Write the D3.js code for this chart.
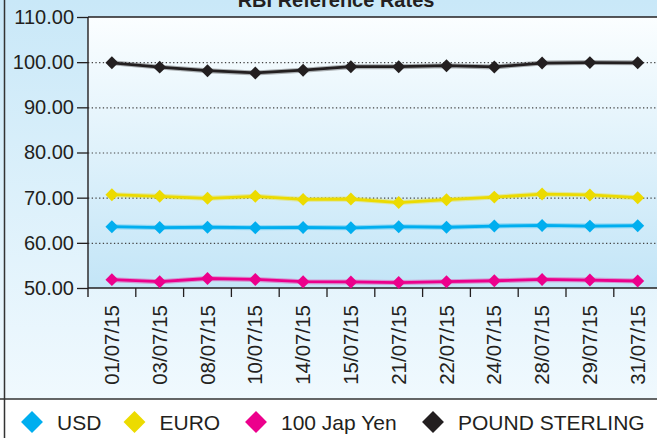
<!DOCTYPE html>
<html>
<head>
<meta charset="utf-8">
<script src="https://d3js.org/d3.v7.min.js"></script>
<style>
  body { margin: 0; background: #fff; }
  svg { display: block; font-family: "Liberation Sans", Arial, sans-serif; }
</style>
</head>
<body>
<svg width="657" height="438"></svg>
<script>
var dates = ["01/07/15", "03/07/15", "08/07/15", "10/07/15", "14/07/15", "15/07/15",
             "21/07/15", "22/07/15", "24/07/15", "28/07/15", "29/07/15", "31/07/15"];
var usd   = [63.57, 63.38, 63.45, 63.36, 63.40, 63.33, 63.57, 63.45, 63.72, 63.85, 63.70, 63.80];
var euro  = [70.66, 70.30, 69.86, 70.30, 69.62, 69.70, 68.92, 69.55, 70.12, 70.80, 70.60, 70.00];
var yen   = [51.85, 51.40, 52.10, 51.90, 51.40, 51.35, 51.20, 51.40, 51.60, 51.90, 51.75, 51.55];
var pound = [99.86, 98.90, 98.12, 97.62, 98.22, 99.00, 99.00, 99.22, 98.95, 99.80, 99.90, 99.85];
var seriesNames = ["USD", "EURO", "100 Jap Yen", "POUND STERLING"];
var seriesColors = ["#00aeef", "#ecdb00", "#ec008c", "#231f20"];
var yTicks = [50, 60, 70, 80, 90, 100, 110];

var svg = d3.select("svg"),
    width = +svg.attr("width"),
    height = +svg.attr("height");

var plotL = 88, plotR = 661.6, plotT = 17, plotB = 288, legendTop = 399;

var defs = svg.append("defs");
var bgGrad = defs.append("linearGradient").attr("id", "bg").attr("x1", 0).attr("y1", 0).attr("x2", 0).attr("y2", 1);
bgGrad.append("stop").attr("offset", "0%").attr("stop-color", "#c9e8f8");
bgGrad.append("stop").attr("offset", "100%").attr("stop-color", "#f0f9fe");
var plotGrad = defs.append("linearGradient").attr("id", "plotbg").attr("x1", 0).attr("y1", 0).attr("x2", 0).attr("y2", 1);
plotGrad.append("stop").attr("offset", "0%").attr("stop-color", "#fbfeff");
plotGrad.append("stop").attr("offset", "100%").attr("stop-color", "#c3e5f7");

// backgrounds
svg.append("rect").attr("x", 0).attr("y", 0).attr("width", width).attr("height", legendTop).attr("fill", "url(#bg)");
svg.append("rect").attr("x", 0).attr("y", legendTop).attr("width", width).attr("height", height - legendTop).attr("fill", "#fff");
svg.append("rect").attr("x", plotL).attr("y", plotT).attr("width", plotR - plotL).attr("height", plotB - plotT).attr("fill", "url(#plotbg)");

var x = d3.scaleBand().domain(dates).range([plotL, plotR]).padding(0);
var y = d3.scaleLinear().domain([50, 110]).range([plotB, plotT]);

// gridlines
svg.append("g").selectAll("line")
  .data(yTicks.filter(function(d) { return d > 50 && d < 110; }))
  .enter().append("line")
  .attr("x1", plotL).attr("x2", plotR)
  .attr("y1", function(d) { return y(d) + 0.5; })
  .attr("y2", function(d) { return y(d) + 0.5; })
  .attr("stroke", "#444").attr("stroke-width", 1.2)
  .attr("stroke-dasharray", "1.3,2.4");

// y axis
var yAxis = svg.append("g")
  .attr("transform", "translate(" + plotL + ",0)")
  .call(d3.axisLeft(y).tickValues(yTicks).tickFormat(d3.format(".2f")).tickSize(11).tickPadding(3));
yAxis.select(".domain").remove();
yAxis.selectAll("line").attr("stroke", "#231f20").attr("stroke-width", 1.3);
yAxis.selectAll("text").attr("font-size", "20px").attr("fill", "#231f20")
  .attr("font-family", "'Liberation Sans', Arial, sans-serif");

// x axis labels (at band centres)
var xAxis = svg.append("g")
  .attr("transform", "translate(0," + plotB + ")")
  .call(d3.axisBottom(x).tickSize(0).tickPadding(0));
xAxis.select(".domain").remove();
xAxis.selectAll("text")
  .attr("font-size", "20.5px").attr("fill", "#231f20")
  .attr("font-family", "'Liberation Sans', Arial, sans-serif")
  .attr("transform", "rotate(-90)")
  .attr("text-anchor", "end")
  .attr("dy", "0.35em")
  .attr("x", -17)
  .attr("y", 0);

// x tick marks at band boundaries
svg.append("g").selectAll("line")
  .data(dates.slice(1))
  .enter().append("line")
  .attr("x1", function(d) { return x(d); })
  .attr("x2", function(d) { return x(d); })
  .attr("y1", plotB).attr("y2", plotB + 9)
  .attr("stroke", "#231f20").attr("stroke-width", 1.3);

// axis lines
svg.append("line").attr("x1", plotL).attr("x2", plotL).attr("y1", plotT).attr("y2", plotB + 9)
  .attr("stroke", "#231f20").attr("stroke-width", 1.4);
svg.append("line").attr("x1", plotL).attr("x2", plotR).attr("y1", plotB).attr("y2", plotB)
  .attr("stroke", "#231f20").attr("stroke-width", 1.4);
svg.append("line").attr("x1", plotL).attr("x2", plotR).attr("y1", plotT).attr("y2", plotT)
  .attr("stroke", "#231f20").attr("stroke-width", 1.4);

// series
var allSeries = [usd, euro, yen, pound];
var line = d3.line()
  .x(function(d, i) { return x(dates[i]) + x.bandwidth() / 2; })
  .y(function(d) { return y(d); });
var marker = d3.symbol().type(d3.symbolSquare).size(84);

allSeries.forEach(function(vals, s) {
  var g = svg.append("g");
  g.append("path").datum(vals)
    .attr("d", line)
    .attr("fill", "none")
    .attr("stroke", seriesColors[s])
    .attr("stroke-opacity", 0.35)
    .attr("stroke-width", 5);
  g.append("path").datum(vals)
    .attr("d", line)
    .attr("fill", "none")
    .attr("stroke", seriesColors[s])
    .attr("stroke-width", 2.8);
  g.selectAll("path.pt").data(vals).enter().append("path")
    .attr("class", "pt")
    .attr("d", marker)
    .attr("transform", function(d, i) {
      return "translate(" + (x(dates[i]) + x.bandwidth() / 2) + "," + y(d) + ") rotate(45)";
    })
    .attr("fill", seriesColors[s]);
});

// title
svg.append("text")
  .attr("x", 336).attr("y", 7)
  .attr("text-anchor", "middle")
  .attr("font-size", "20px").attr("font-weight", "bold").attr("fill", "#231f20")
  .text("RBI Reference Rates");

// legend
svg.append("line").attr("x1", 0).attr("x2", width).attr("y1", legendTop).attr("y2", legendTop)
  .attr("stroke", "#333").attr("stroke-width", 1.5);
var legendX = [32, 134.5, 256, 433];
var legendSym = d3.symbol().type(d3.symbolSquare).size(240);
var lg = svg.append("g").selectAll("g")
  .data(seriesNames)
  .enter().append("g")
  .attr("transform", function(d, i) { return "translate(" + legendX[i] + ",422)"; });
lg.append("path").attr("d", legendSym).attr("transform", "rotate(45)")
  .attr("fill", function(d, i) { return seriesColors[i]; });
lg.append("text")
  .attr("x", 25).attr("y", 7.5)
  .attr("font-size", "21px").attr("fill", "#231f20")
  .text(function(d) { return d; });

// outer frame left edge
svg.append("line").attr("x1", 4.5).attr("x2", 4.5).attr("y1", 0).attr("y2", height)
  .attr("stroke", "#333").attr("stroke-width", 1.5);
</script>
</body>
</html>
